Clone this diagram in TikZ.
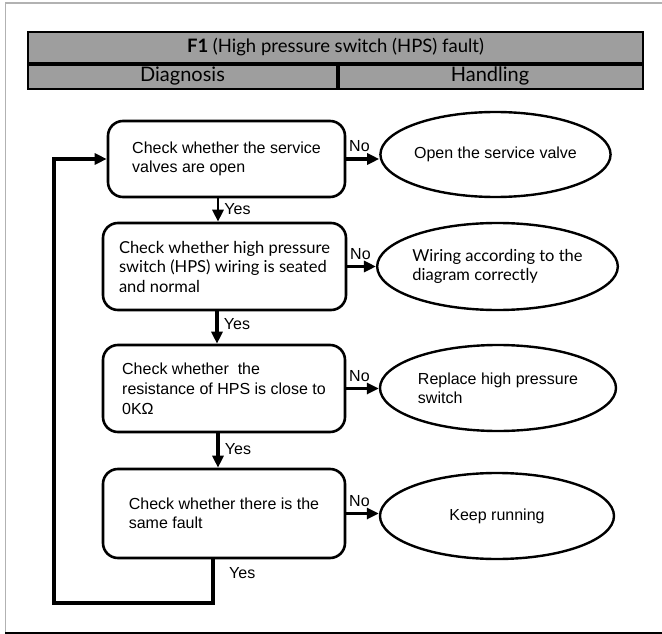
\documentclass[tikz,border=0pt]{standalone}
\usepackage{fontspec}
\setmainfont{Liberation Sans}
\newfontfamily\hum{Lato}
\usetikzlibrary{arrows.meta,shapes.geometric}
\definecolor{hdr}{HTML}{9E9E9E}
\begin{document}
\begin{tikzpicture}[x=1pt,y=-1pt,
  chk/.style={draw,rounded corners=15pt,line width=2.6pt,align=left,
    font=\fontsize{16}{19}\selectfont,inner sep=0pt},
  act/.style={draw,ellipse,line width=2.4pt,align=left,inner sep=0pt,
    font=\fontsize{16}{19}\selectfont},
  flow/.style={line width=3.8pt,-{Triangle[length=12pt,width=11pt]}},
  thin flow/.style={line width=2.8pt,-{Triangle[length=12pt,width=11pt]}},
  lbl/.style={font=\fontsize{16}{18}\selectfont,inner sep=1pt},
  hcell/.style={draw,fill=hdr,line width=2pt,inner sep=0pt,
    font=\hum\fontsize{20}{22}\selectfont}]
\useasboundingbox (0,0) rectangle (662,634);
% outer frame
\draw[gray!60,line width=1.2pt] (662,3) -- (5.5,3) -- (5.5,633);
\draw[black,line width=1.6pt] (5,633) -- (662,633);
% header
\node[hcell,minimum width=615pt,minimum height=31pt,font=\hum\fontsize{18.5}{21}\selectfont] (title) at (335.5,47.5)
  {\textbf{F1} (High pressure switch (HPS) fault)};
\node[hcell,minimum width=309pt,minimum height=26pt] (diag) at (182.5,76) {Diagnosis};
\node[hcell,minimum width=306pt,minimum height=26pt] (hand) at (490,76) {Handling};
\draw[line width=3.5pt] (title.south west) -- (title.south east);
\draw[line width=3pt] (diag.north east) -- (diag.south east);
% checks
\node[chk,minimum width=237pt,minimum height=76pt] (b1) at (226.5,159)
  {Check whether the service\\valves are open};
\node[chk,minimum width=243pt,minimum height=87pt,font=\hum\fontsize{16.5}{19.5}\selectfont] (b2) at (224.5,266.5)
  {Check whether high pressure\\switch (HPS) wiring is seated\\and normal};
\node[chk,minimum width=242pt,minimum height=87pt,font=\fontsize{16}{20}\selectfont] (b3) at (224,388.5)
  {Check whether\ \ the\\resistance of HPS is close to\\0KΩ};
\node[chk,minimum width=242pt,minimum height=89pt] (b4) at (224,513.5)
  {Check whether there is the\\same fault};
% actions
\node[act,minimum width=225pt,minimum height=85pt] (e1) at (495.5,154.5)
  {Open the service valve};
\node[act,minimum width=237pt,minimum height=87pt,font=\hum\fontsize{16.5}{19.5}\selectfont] (e2) at (497.5,266.5)
  {Wiring according to the\\diagram correctly};
\node[act,minimum width=236pt,minimum height=86pt] (e3) at (498,388)
  {Replace high pressure\\switch};
\node[act,minimum width=234pt,minimum height=86pt] (e4) at (497,516)
  {Keep running};
% No arrows
\foreach \i in {1,...,4}{
  \draw[flow] (b\i.east) -- node[lbl,pos=0,anchor=south west,yshift=4pt] (no\i) {No} (b\i.east -| e\i.west);
}
% Yes arrows
\draw[thin flow] ([xshift=-6.5pt]b2.north |- b1.south) -- node[lbl,pos=0.45,anchor=west,xshift=4pt] (y1) {Yes} ([xshift=-6.5pt]b2.north);
\draw[flow] ([xshift=-7pt]b3.north |- b2.south) -- node[lbl,pos=0.4,anchor=west,xshift=4pt] (y2) {Yes} ([xshift=-7pt]b3.north);
\draw[flow] ([xshift=-6pt]b4.north |- b3.south) -- node[lbl,pos=0.45,anchor=west,xshift=4pt] (y3) {Yes} ([xshift=-6pt]b4.north);
% loop back
\coordinate (lp) at (54,603);
\draw[flow] ([xshift=-11pt]b4.south) |- (lp) |- (b1.west);
\node[lbl,anchor=west] (y4) at ([xshift=4pt,yshift=-14pt]b4.south) {Yes};
\end{tikzpicture}
\end{document}
